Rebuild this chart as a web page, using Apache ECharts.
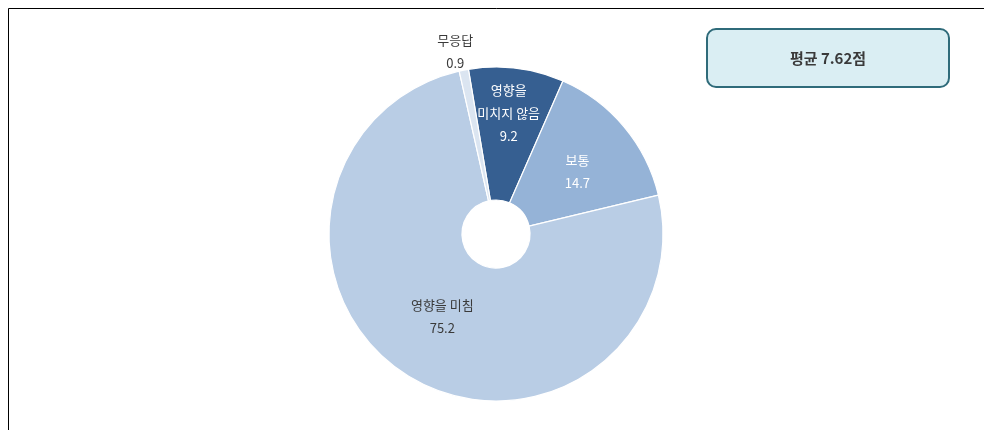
<!DOCTYPE html>
<html>
<head>
<meta charset="utf-8">
<script src="https://cdn.jsdelivr.net/npm/echarts@6/dist/echarts.min.js"></script>
<style>
  html, body { margin: 0; padding: 0; background: #ffffff; }
  #chart { width: 984px; height: 430px; }
</style>
</head>
<body>
<div id="chart"></div>
<script>
// Response shares (%), listed clockwise from the top of the ring
const categories = ['영향을\n미치지 않음', '보통', '영향을 미침', '무응답'];
const shares = [9.2, 14.7, 75.2, 0.9];
const sliceColors = ['#365f91', '#95b3d7', '#b9cde5', '#dbe5f1'];
const labelColors = ['#ffffff', '#ffffff', '#3a3a3a', '#3a3a3a'];
const averageText = '평균 7.62점';

const FONT = '"Noto Sans CJK KR", "Noto Sans", sans-serif';

const chart = echarts.init(document.getElementById('chart'), null, { renderer: 'canvas' });

const pieData = categories.map((name, i) => ({
  name: name,
  value: shares[i],
  itemStyle: { color: sliceColors[i] },
  label: {
    color: labelColors[i],
    position: i === 3 ? 'outside' : 'inside',
    align: 'center'
  },
  labelLine: { show: false }
}));

// label nudges per slice (px)
const labelShift = [[0, -18], [2, 4], [1, -5], [-2, -11]];

chart.setOption({
  animation: false,
  backgroundColor: '#ffffff',
  graphic: [
    // frame edges
    { type: 'line', shape: { x1: 8.5, y1: 8.5, x2: 984, y2: 8.5 }, style: { stroke: '#000000', lineWidth: 1 } },
    { type: 'line', shape: { x1: 8.5, y1: 8.5, x2: 8.5, y2: 430 }, style: { stroke: '#000000', lineWidth: 1 } },
    // average score badge
    {
      type: 'group', left: 706, top: 28,
      children: [
        { type: 'rect', shape: { x: 0, y: 0, width: 242, height: 58, r: 9 },
          style: { fill: '#daeef3', stroke: '#2f6b7a', lineWidth: 2 } },
        { type: 'text', x: 121, y: 29,
          style: { text: averageText, font: '600 15px ' + FONT, fill: '#3a3a3a',
                   align: 'center', verticalAlign: 'middle' } }
      ]
    }
  ],
  series: [{
    type: 'pie',
    center: [496, 234],
    radius: [34, 167],
    startAngle: 99.5,
    clockwise: true,
    avoidLabelOverlap: false,
    itemStyle: { borderColor: '#ffffff', borderWidth: 1.2 },
    label: {
      show: true,
      fontFamily: FONT,
      fontSize: 13,
      lineHeight: 23,
      align: 'center',
      formatter: p => p.name + '\n' + p.value
    },
    labelLine: { show: false, length: 8, length2: 0 },
    labelLayout: function (params) {
      const s = labelShift[params.dataIndex];
      return { dx: s[0], dy: s[1], align: 'center' };
    },
    emphasis: { disabled: true },
    data: pieData
  }]
});
</script>
</body>
</html>
